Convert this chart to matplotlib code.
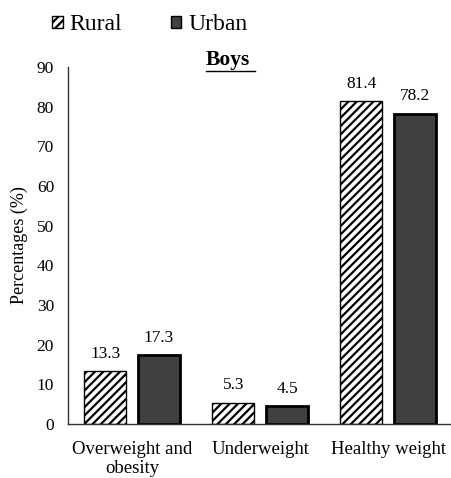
import matplotlib
matplotlib.use("Agg")
import matplotlib.pyplot as plt
import numpy as np
from matplotlib.patches import Patch

categories = ["Overweight and\nobesity", "Underweight", "Healthy weight"]
rural = [13.3, 5.3, 81.4]
urban = [17.3, 4.5, 78.2]
yticks = [0, 10, 20, 30, 40, 50, 60, 70, 80, 90]

plt.rcParams['font.family'] = ['Liberation Serif', 'DejaVu Serif']
plt.rcParams['hatch.linewidth'] = 1.6

fig = plt.figure(figsize=(4.51, 4.78), dpi=100)
ax = fig.add_axes([68/451, (478-424)/478, (451-68)/451, (424-67)/478])

x = np.arange(len(categories))
w = 0.33
b1 = ax.bar(x - 0.21, rural, w, color='white', edgecolor='black', hatch='////', linewidth=1.0)
b2 = ax.bar(x + 0.21, urban, w, color='#404040', edgecolor='black', linewidth=2.0)

for rect, v in zip(list(b1) + list(b2), rural + urban):
    ax.text(rect.get_x() + rect.get_width()/2, v + 2.4, f"{v}", ha='center', va='bottom', fontsize=12.5)

ax.set_xlim(-0.5, 2.49)
ax.set_ylim(0, 90)
ax.set_yticks(yticks)
ax.set_xticks(x)
ax.set_xticklabels(categories, fontsize=13.5, linespacing=1.15)
ax.tick_params(axis='y', length=0, labelsize=12.5, pad=10)
ax.tick_params(axis='x', length=0, pad=12)
for s in ['top', 'right']:
    ax.spines[s].set_visible(False)
for s in ['left', 'bottom']:
    ax.spines[s].set_color('#333333')
    ax.spines[s].set_linewidth(1.0)
ax.set_ylabel("Percentages (%)", fontsize=13, labelpad=6)

fig.text(228/451, 1 - 60/478, "Boys", ha='center', va='center', fontsize=15.5, fontweight='bold')
fig.add_artist(plt.Line2D([206/451, 255/451], [1 - 71/478, 1 - 71/478], color='black', linewidth=1.0))

handles = [Patch(facecolor='white', edgecolor='black', hatch='////', label='Rural'),
           Patch(facecolor='#404040', edgecolor='black', label='Urban')]
fig.legend(handles=handles, loc='center left', bbox_to_anchor=(52/451, 1 - 25/478), ncol=2,
           frameon=False, fontsize=17, handlelength=0.45, handleheight=0.45,
           handletextpad=0.3, columnspacing=2.05, borderaxespad=0, borderpad=0)

fig.savefig("out.png", dpi=100)
